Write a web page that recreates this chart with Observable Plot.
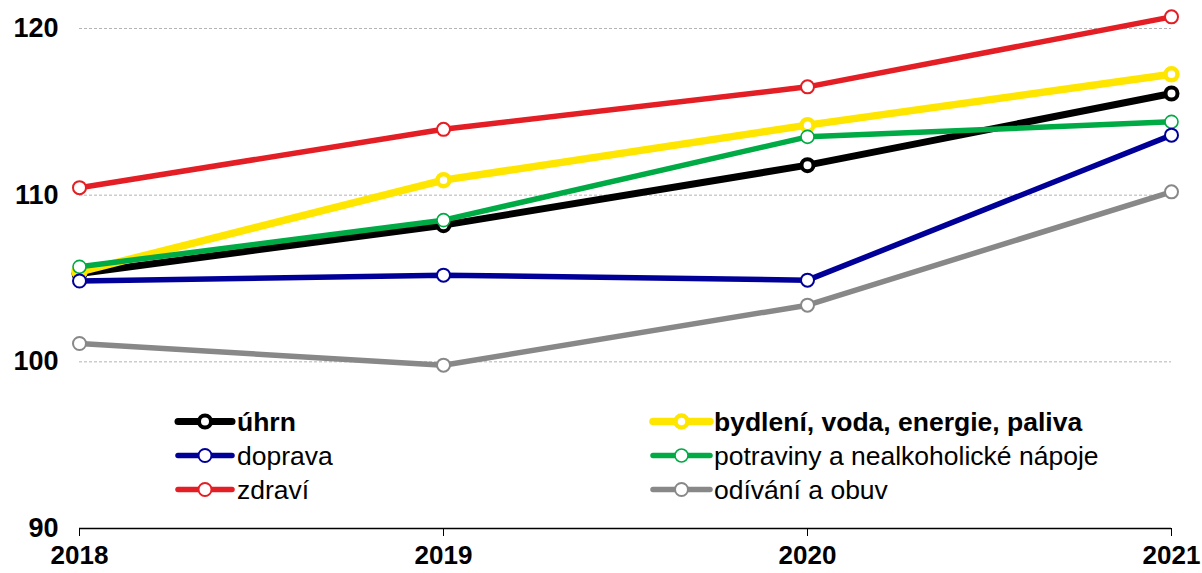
<!DOCTYPE html>
<html>
<head>
<meta charset="utf-8">
<script src="https://cdn.jsdelivr.net/npm/d3@7"></script>
<script src="https://cdn.jsdelivr.net/npm/@observablehq/plot@0.6"></script>
<style>
  body { margin: 0; background: #fff; }
  #chart svg { display: block; }
</style>
</head>
<body>
<div id="chart"></div>
<script>
// Index values by year, one array per spending category
const years = [2018, 2019, 2020, 2021];
const uhrn      = [105.3, 108.2, 111.8, 116.1];
const bydleni   = [105.4, 110.9, 114.2, 117.25];
const doprava   = [104.85, 105.2, 104.9, 113.6];
const potraviny = [105.7, 108.5, 113.5, 114.4];
const zdravi    = [110.45, 113.95, 116.5, 120.7];
const odivani   = [101.1, 99.8, 103.4, 110.2];
const yTicks = [90, 100, 110, 120];

const series = [
  { name: "úhrn", values: uhrn },
  { name: "bydlení, voda, energie, paliva", values: bydleni },
  { name: "doprava", values: doprava },
  { name: "potraviny a nealkoholické nápoje", values: potraviny },
  { name: "zdraví", values: zdravi },
  { name: "odívání a obuv", values: odivani }
];

// Per-series look: colour, line weight, bold legend label
const style = {
  "úhrn": { color: "#000000", width: 7, r: 6, sw: 4, bold: true },
  "bydlení, voda, energie, paliva": { color: "#ffe600", width: 7.5, r: 6, sw: 4.5, bold: true },
  "doprava": { color: "#000099", width: 5.5, r: 6.5, sw: 2, bold: false },
  "potraviny a nealkoholické nápoje": { color: "#00aa44", width: 5.5, r: 6.5, sw: 1.6, bold: false },
  "zdraví": { color: "#e31e24", width: 5.5, r: 6.5, sw: 2, bold: false },
  "odívání a obuv": { color: "#888888", width: 5.5, r: 6.5, sw: 2, bold: false }
};

// Stacking order of the lines (last one on top)
const drawOrder = ["odívání a obuv", "úhrn", "bydlení, voda, energie, paliva",
  "potraviny a nealkoholické nápoje", "doprava", "zdraví"];

const rows = series.flatMap(s => s.values.map((v, i) => ({ name: s.name, year: years[i], value: v })));

const marks = [
  Plot.gridY(yTicks.filter(t => t > 90), { stroke: "#b4b4b4", strokeOpacity: 1, strokeWidth: 1, strokeDasharray: "3,2" }),
  Plot.axisY(yTicks, { tickSize: 0, tickPadding: 21, fontSize: 27, fontWeight: "bold", fill: "#000", label: null }),
  Plot.axisX(years, { tickSize: 8, tickPadding: 9, fontSize: 26, fontWeight: "bold", fill: "#000", tickFormat: "d", label: null, stroke: "#000" }),
  Plot.ruleY([90], { stroke: "#000", strokeWidth: 1.5 })
];
for (const name of drawOrder) {
  const st = style[name];
  const data = rows.filter(d => d.name === name);
  marks.push(Plot.line(data, { x: "year", y: "value", stroke: st.color, strokeWidth: st.width, strokeLinecap: "round", strokeLinejoin: "round" }));
  marks.push(Plot.dot(data, { x: "year", y: "value", r: st.r, fill: "#fff", stroke: st.color, strokeWidth: st.sw }));
}

const chart = Plot.plot({
  width: 1202,
  height: 573,
  marginLeft: 79,
  marginRight: 31,
  marginTop: 28,
  marginBottom: 45,
  style: { fontFamily: "'Liberation Sans', Arial, sans-serif", background: "#fff" },
  x: { type: "linear", domain: [2018, 2021] },
  y: { domain: [90, 120] },
  marks
});

// Legend, two columns inside the plot area
const svg = d3.select(chart);
const legendCols = [
  { x1: 178, x2: 232, tx: 237, names: ["úhrn", "doprava", "zdraví"] },
  { x1: 653, x2: 710, tx: 714, names: ["bydlení, voda, energie, paliva", "potraviny a nealkoholické nápoje", "odívání a obuv"] }
];
const rowY = [421.5, 455.5, 489.5];
const lg = svg.append("g")
  .attr("font-family", "'Liberation Sans', Arial, sans-serif")
  .attr("font-size", 26.5)
  .attr("text-anchor", "start");
for (const col of legendCols) {
  col.names.forEach((name, i) => {
    const st = style[name];
    const y = rowY[i];
    lg.append("line").attr("x1", col.x1).attr("x2", col.x2).attr("y1", y).attr("y2", y)
      .attr("stroke", st.color).attr("stroke-width", st.width).attr("stroke-linecap", "round");
    lg.append("circle").attr("cx", (col.x1 + col.x2) / 2).attr("cy", y).attr("r", st.r)
      .attr("fill", "#fff").attr("stroke", st.color).attr("stroke-width", st.sw);
    lg.append("text").attr("x", col.tx).attr("y", y).attr("dy", "0.36em")
      .attr("font-weight", st.bold ? "bold" : "normal").attr("fill", "#000").text(name);
  });
}

document.getElementById("chart").appendChild(chart);
</script>
</body>
</html>
